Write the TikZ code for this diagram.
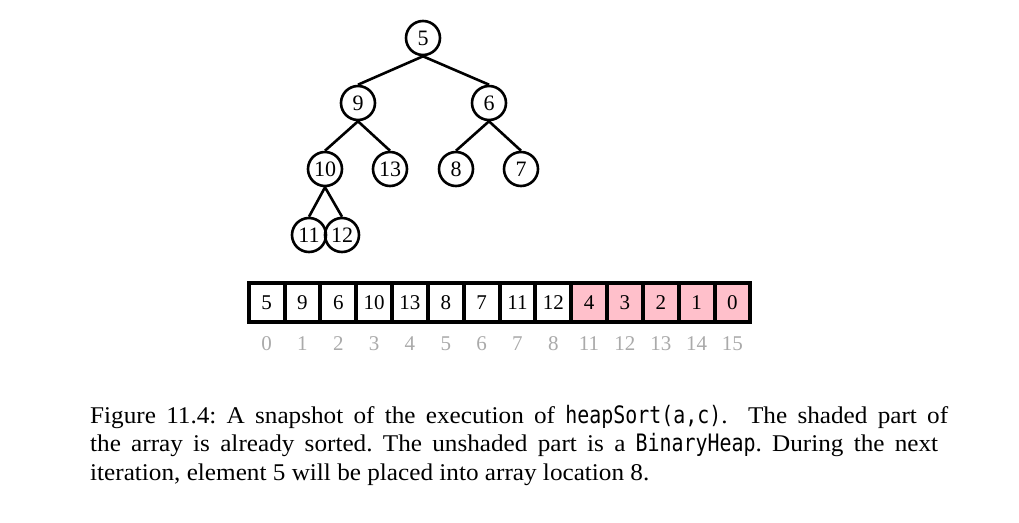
\documentclass[tikz,border=0pt]{standalone}
\usepackage{fontspec}
\setmainfont{Liberation Serif}
\newfontfamily\capfont[FakeStretch=1.05]{Liberation Serif}
\newfontfamily\codefont[FakeStretch=0.83]{DejaVu Sans Mono}
\definecolor{shade}{RGB}{255,192,203}
\definecolor{idxgray}{RGB}{170,170,170}
\frenchspacing
\begin{document}
\begin{tikzpicture}[x=1pt,y=-1pt,
  hnode/.style={circle,draw,line width=2.6pt,minimum size=34pt,inner sep=0pt,font=\fontsize{22}{22}\selectfont},
  edge/.style={line width=2.6pt},
  cell/.style={draw,line width=4pt,minimum width=35.83pt,minimum height=39.6pt,inner sep=0pt,anchor=center,font=\fontsize{21}{21}\selectfont},
  idx/.style={text=idxgray,font=\fontsize{21}{21}\selectfont},
  capline/.style={anchor=base west,inner sep=0pt,font=\capfont\fontsize{24}{24}\selectfont\frenchspacing}]
\useasboundingbox (0,0) rectangle (1019,522);
% tree
\node[hnode] (n5) at (423,38) {5};
\node[hnode] (n9) at (358,103) {9};
\node[hnode] (n6) at (489,103) {6};
\node[hnode] (n10) at (325,169) {10};
\node[hnode] (n13) at (390,169) {13};
\node[hnode] (n8) at (456,169) {8};
\node[hnode] (n7) at (521,169) {7};
\node[hnode] (n11) at (309,235) {11};
\node[hnode] (n12) at (342,235) {12};
\draw[edge] (n5.south) -- (n9.north);
\draw[edge] (n5.south) -- (n6.north);
\draw[edge] (n9.south) -- (n10.north);
\draw[edge] (n9.south) -- (n13.north);
\draw[edge] (n6.south) -- (n8.north);
\draw[edge] (n6.south) -- (n7.north);
\draw[edge] (n10.south) -- (n11.north);
\draw[edge] (n10.south) -- (n12.north);
% array
\foreach \v/\i [count=\k from 0] in {5/0,9/1,6/2,10/3,13/4,8/5,7/6,11/7,12/8} {
  \node[cell,fill=white] (c\k) at ({248.7+35.83*(\k+0.5)},302.5) {\v};
  \node[idx] (i\k) at ({248.7+35.83*(\k+0.5)},343.5) {\i};
}
\foreach \v/\i [count=\k from 9] in {4/11,3/12,2/13,1/14,0/15} {
  \node[cell,fill=shade] (c\k) at ({248.7+35.83*(\k+0.5)},302.5) {\v};
  \node[idx] (i\k) at ({248.7+35.83*(\k+0.5)},343.5) {\i};
}
% caption
\node[capline] (cap1) at (90,423.3) {\makebox[858pt][s]{Figure 11.4: A snapshot of the execution of {\codefont heapSort(a,c)}.\ \ The shaded part of}};
\node[capline] (cap2) at (90,451.7) {\makebox[848pt][s]{the array is already sorted. The unshaded part is a {\codefont BinaryHeap}. During the next}};
\node[capline] (cap3) at (90,480) {iteration, element 5 will be placed into array location 8.};
\end{tikzpicture}
\end{document}
